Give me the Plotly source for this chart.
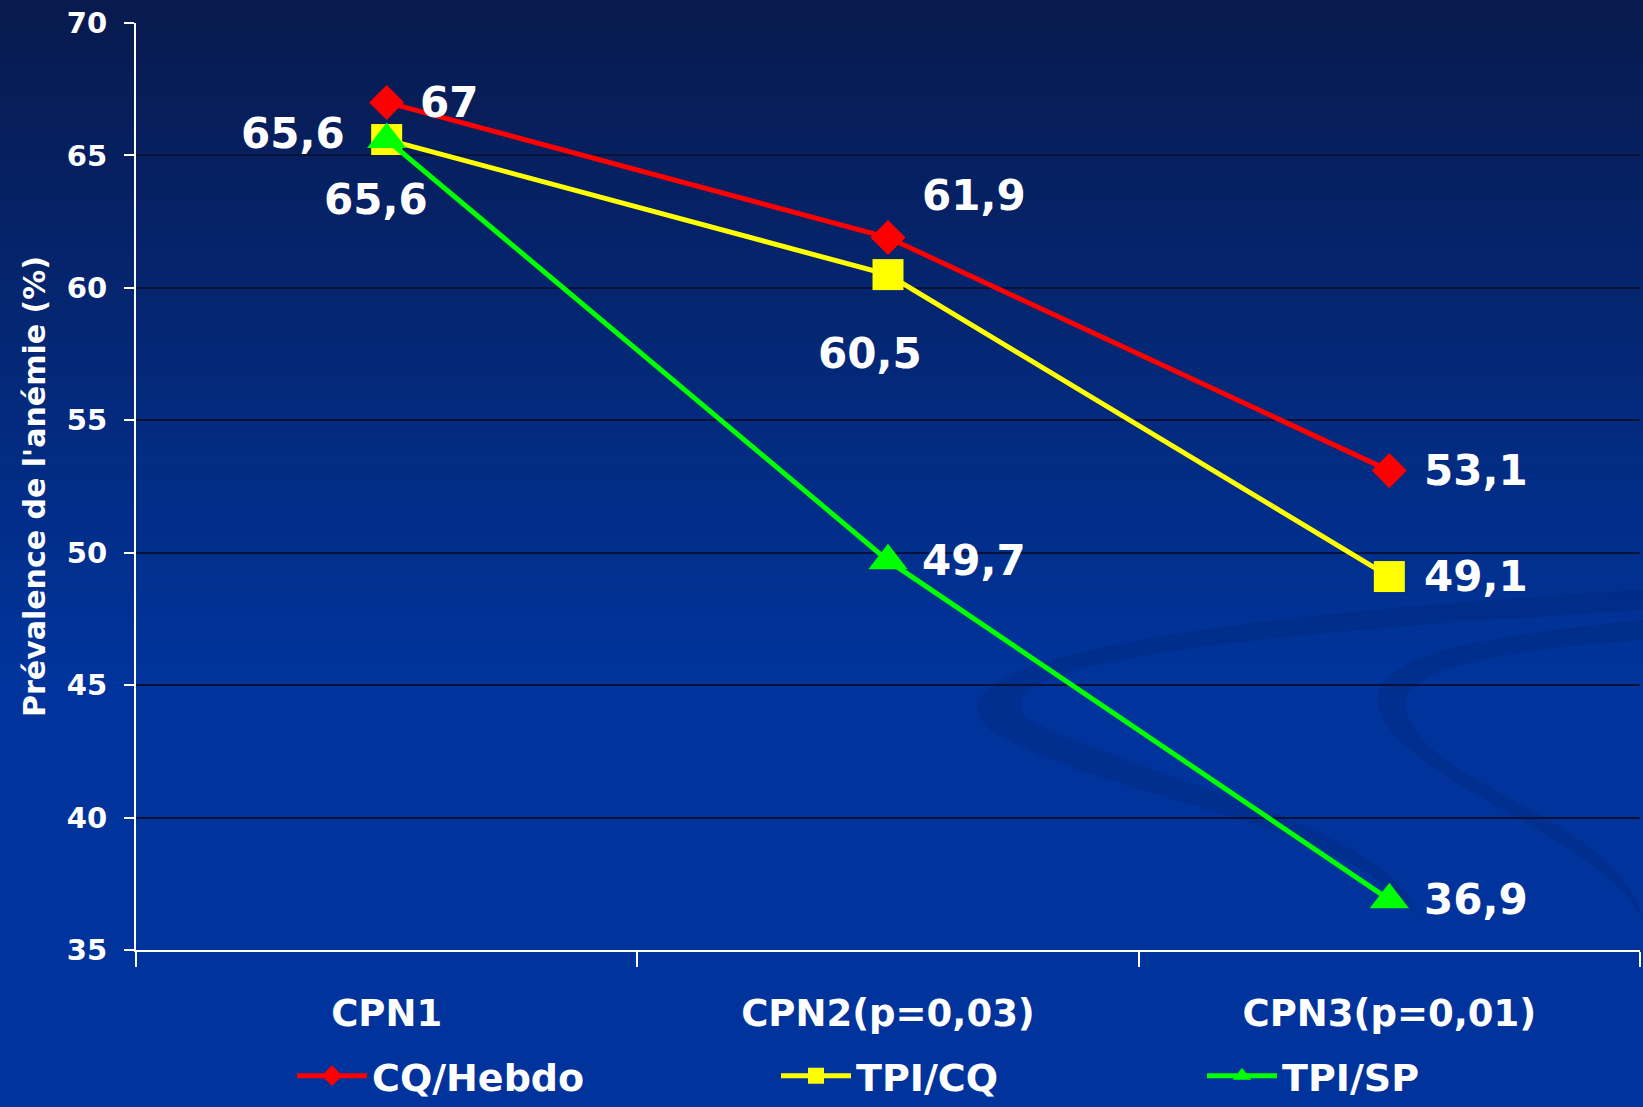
import plotly.graph_objects as go

# ---- data ----
categories = ["CPN1", "CPN2(p=0,03)", "CPN3(p=0,01)"]
series_names = ["CQ/Hebdo", "TPI/CQ", "TPI/SP"]
cq_hebdo = [67.0, 61.9, 53.1]
tpi_cq = [65.6, 60.5, 49.1]
tpi_sp = [65.6, 49.7, 36.9]
value_labels_cq = ["67", "61,9", "53,1"]
value_labels_tpicq = ["65,6", "60,5", "49,1"]
value_labels_tpisp = ["65,6", "49,7", "36,9"]
y_ticks = [35, 40, 45, 50, 55, 60, 65, 70]

# ---- styles ----
FONT = "DejaVu Sans"
W, H = 1643, 1107
L, R, T, B = 136, 3, 23, 157
PW, PH = W - L - R, H - T - B

colors = ["#ff0000", "#ffff00", "#00ff00"]
symbols = ["diamond", "square", "triangle-up"]
msizes = [27, 31, 34]
# label placement per point: (xanchor, xshift, yshift)
label_pos = [
    [("left", 31, 0), ("left", 32, 42), ("left", 33, 0)],
    [("right", -40, 6), ("center", -18, -79), ("left", 33, 0)],
    [("center", -11, -60), ("left", 32, 0), ("left", 33, 0)],
]

fig = go.Figure()
all_vals = [cq_hebdo, tpi_cq, tpi_sp]
all_labels = [value_labels_cq, value_labels_tpicq, value_labels_tpisp]
legend_ids = ["legend", "legend2", "legend3"]
for i, (name, vals) in enumerate(zip(series_names, all_vals)):
    fig.add_trace(go.Scatter(
        x=categories, y=vals, name=name, mode="lines+markers",
        line=dict(color=colors[i], width=5),
        marker=dict(symbol=symbols[i], size=msizes[i], color=colors[i]),
        legend=legend_ids[i], cliponaxis=False,
    ))

annotations = []
for i, (vals, labs) in enumerate(zip(all_vals, all_labels)):
    for j, (v, lab) in enumerate(zip(vals, labs)):
        xa, xs, ys = label_pos[i][j]
        annotations.append(dict(
            x=categories[j], y=v, xref="x", yref="y", text=lab, showarrow=False,
            xanchor=xa, yanchor="middle", xshift=xs, yshift=ys,
            font=dict(family=FONT, size=42, color="white", weight="bold"),
        ))

# background gradient (decoration)
def hex2rgb(h):
    h = h.lstrip("#")
    return [int(h[k:k + 2], 16) for k in (0, 2, 4)]

top_c, bot_c = hex2rgb("#081a4e"), hex2rgb("#00349c")
shapes = []
nb = 60
grad_h = 0.62 * H
def px_x(X):
    return (X - L) / PW
def px_y(Y):
    return (H - B - Y) / PH
for k in range(nb):
    t = k / (nb - 1)
    c = [round(top_c[m] + (bot_c[m] - top_c[m]) * t) for m in range(3)]
    y0 = k * grad_h / nb
    y1 = (k + 1) * grad_h / nb + 1
    shapes.append(dict(type="rect", xref="paper", yref="paper", layer="below",
                       x0=px_x(0) - 0.01, x1=px_x(W) + 0.01, y0=px_y(y1), y1=px_y(y0),
                       line=dict(width=0), fillcolor="rgb(%d,%d,%d)" % tuple(c)))

# subtle swirl decoration
def path_from(points):
    s = "M %f,%f" % (px_x(points[0][0]), px_y(points[0][1]))
    for k in range(1, len(points) - 2, 3):
        p1, p2, p3 = points[k], points[k + 1], points[k + 2]
        s += " C %f,%f %f,%f %f,%f" % (px_x(p1[0]), px_y(p1[1]), px_x(p2[0]), px_y(p2[1]), px_x(p3[0]), px_y(p3[1]))
    return s + " Z"

swirl1 = [(1643, 590), (1300, 610), (900, 650), (990, 730),
          (1100, 800), (1350, 820), (1420, 920),
          (1400, 830), (1150, 780), (1030, 720),
          (960, 660), (1300, 630), (1643, 610)]
swirl2 = [(1643, 620), (1450, 640), (1340, 660), (1390, 730),
          (1450, 800), (1600, 840), (1643, 920),
          (1620, 820), (1440, 790), (1410, 720),
          (1380, 670), (1500, 650), (1643, 640)]
for pts in (swirl1, swirl2):
    shapes.append(dict(type="path", xref="paper", yref="paper", layer="below",
                       path=path_from(pts), line=dict(width=0),
                       fillcolor="rgba(0,30,100,0.22)"))

fig.update_layout(
    width=W, height=H,
    margin=dict(l=L, r=R, t=T, b=B, autoexpand=False),
    paper_bgcolor="#00349c", plot_bgcolor="rgba(0,0,0,0)",
    font=dict(family=FONT, color="white"),
    shapes=shapes, annotations=annotations,
    xaxis=dict(
        range=[-0.5, 2.5], showgrid=False, zeroline=False,
        showline=True, linecolor="white", linewidth=2,
        ticks="outside", tickson="boundaries", ticklen=15, tickwidth=2, tickcolor="white",
        tickfont=dict(family=FONT, size=37, color="white", weight="bold"),
        ticklabelstandoff=30,
    ),
    yaxis=dict(
        range=[35, 70], tickvals=y_ticks, showgrid=True, gridcolor="#0a1238", gridwidth=2,
        zeroline=False, showline=True, linecolor="white", linewidth=2,
        ticks="outside", ticklen=10, tickwidth=2, tickcolor="white",
        tickfont=dict(family=FONT, size=29, color="white", weight="bold"),
        ticklabelstandoff=11,
        title=dict(text="Prévalence de l'anémie (%)", standoff=12,
                   font=dict(family=FONT, size=30, color="white", weight="bold")),
    ),
    showlegend=True,
)

leg_common = dict(orientation="h", yanchor="middle", xanchor="left",
                  bgcolor="rgba(0,0,0,0)", borderwidth=0, itemwidth=70,
                  font=dict(family=FONT, size=38, color="white", weight="bold"))
leg_y = px_y(1076)
fig.update_layout(
    legend=dict(x=px_x(292), y=leg_y, **leg_common),
    legend2=dict(x=px_x(776), y=leg_y, **leg_common),
    legend3=dict(x=px_x(1202), y=leg_y, **leg_common),
)

fig.write_html("out.html", config={"displayModeBar": False},
               post_script="document.body.style.margin='0';document.body.style.overflow='hidden';")
